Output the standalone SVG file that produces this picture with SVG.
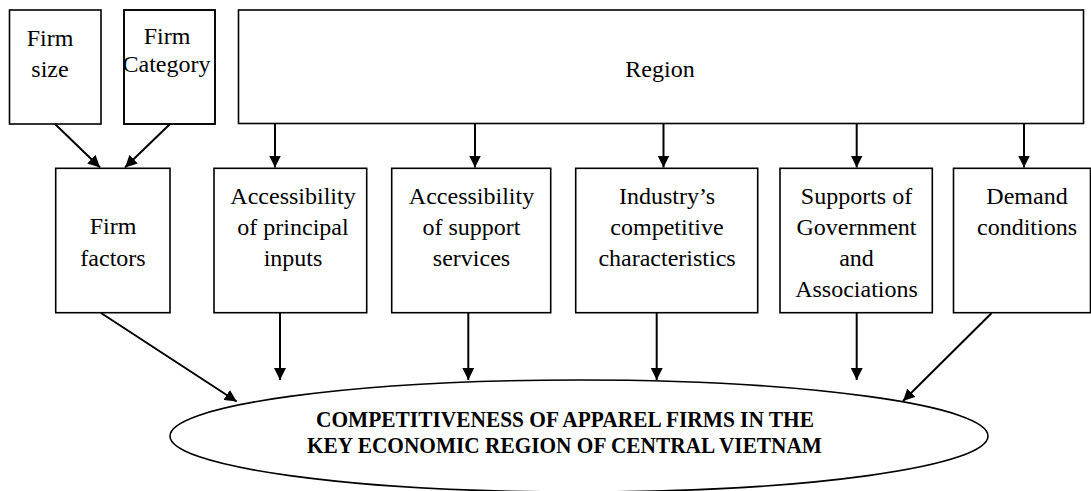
<svg xmlns="http://www.w3.org/2000/svg" width="1091" height="491" viewBox="0 0 1091 491">
  <defs>
    <marker id="arrow" viewBox="0 0 12 12" refX="12" refY="6" markerWidth="12" markerHeight="12" markerUnits="userSpaceOnUse" orient="auto">
      <path d="M0,0 L12,6 L0,12 Z" fill="#000"/>
    </marker>
    <!-- each label is clipped to the inside of its box -->
    <clipPath id="c-size"><rect x="9.5" y="10" width="91.5" height="114"/></clipPath>
    <clipPath id="c-category"><rect x="124.5" y="10" width="90" height="114"/></clipPath>
    <clipPath id="c-region"><rect x="238.5" y="10" width="845" height="113.5"/></clipPath>
    <clipPath id="c-factors"><rect x="55.7" y="168.3" width="114.3" height="144.4"/></clipPath>
    <clipPath id="c-inputs"><rect x="214" y="168.3" width="153" height="144.4"/></clipPath>
    <clipPath id="c-services"><rect x="391.7" y="168.3" width="159" height="144.4"/></clipPath>
    <clipPath id="c-industry"><rect x="575.7" y="168.3" width="182" height="144.4"/></clipPath>
    <clipPath id="c-government"><rect x="780" y="168.3" width="152.5" height="144.4"/></clipPath>
    <clipPath id="c-demand"><rect x="953.5" y="168.3" width="137.5" height="144.4"/></clipPath>
  </defs>
  <style>
    rect.box { fill: #fff; stroke: #000; stroke-width: 1.6; }
    rect.frame { fill: none; stroke: #000; stroke-width: 1.6; }
    ellipse.goal { fill: #fff; stroke: #000; stroke-width: 1.6; }
    text { font-family: 'Liberation Serif', 'DejaVu Serif', serif; fill: #000; text-anchor: middle; font-size: 24px; }
    .bold { font-weight: bold; font-size: 23px; }
    .link { stroke: #000; stroke-width: 2; fill: none; marker-end: url(#arrow); }
  </style>
  <rect width="1091" height="491" fill="#fff"/>

  <!-- top row -->
  <g id="firm-size">
    <rect class="box" x="9.5" y="10" width="91.5" height="114"/>
    <g clip-path="url(#c-size)">
      <text x="50" y="46">Firm</text>
      <text x="50" y="77">size</text>
    </g>
  </g>
  <g id="firm-category">
    <rect class="box" x="124" y="10" width="91" height="114"/>
    <g clip-path="url(#c-category)">
      <text x="167" y="43.5">Firm</text>
      <text x="166.5" y="72">Category</text>
    </g>
    <rect class="frame" x="124" y="10" width="91" height="114"/>
  </g>
  <g id="region">
    <rect class="box" x="238.5" y="10" width="845" height="113.5"/>
    <g clip-path="url(#c-region)">
      <text x="660" y="76.5">Region</text>
    </g>
  </g>

  <!-- factor row -->
  <g id="firm-factors">
    <rect class="box" x="55.7" y="168.3" width="114.3" height="144.4"/>
    <g clip-path="url(#c-factors)">
      <text x="113" y="234">Firm</text>
      <text x="113" y="265.5">factors</text>
    </g>
  </g>
  <g id="principal-inputs">
    <rect class="box" x="214" y="168.3" width="152.7" height="144.4"/>
    <g clip-path="url(#c-inputs)">
      <text x="293" y="204">Accessibility</text>
      <text x="293" y="234.5">of principal</text>
      <text x="293" y="265.5">inputs</text>
    </g>
  </g>
  <g id="support-services">
    <rect class="box" x="391.7" y="168.3" width="159" height="144.4"/>
    <g clip-path="url(#c-services)">
      <text x="471.5" y="204">Accessibility</text>
      <text x="471.5" y="234.5">of support</text>
      <text x="471.5" y="265.5">services</text>
    </g>
  </g>
  <g id="industry">
    <rect class="box" x="575.7" y="168.3" width="182" height="144.4"/>
    <g clip-path="url(#c-industry)">
      <text x="667" y="204">Industry’s</text>
      <text x="667" y="234.5">competitive</text>
      <text x="667" y="265.5">characteristics</text>
    </g>
  </g>
  <g id="government">
    <rect class="box" x="780" y="168.3" width="152.3" height="144.4"/>
    <g clip-path="url(#c-government)">
      <text x="856.5" y="203.5">Supports of</text>
      <text x="856.5" y="234.5">Government</text>
      <text x="856.5" y="265.5">and</text>
      <text x="856.5" y="297">Associations</text>
    </g>
  </g>
  <g id="demand">
    <rect class="box" x="953.5" y="168.3" width="137" height="144.4"/>
    <g clip-path="url(#c-demand)">
      <text x="1027" y="204">Demand</text>
      <text x="1027" y="234.5">conditions</text>
    </g>
  </g>

  <!-- outcome -->
  <g id="competitiveness">
    <ellipse class="goal" cx="579" cy="436" rx="409" ry="56"/>
    <text class="bold" x="565" y="427" textLength="498" lengthAdjust="spacingAndGlyphs">COMPETITIVENESS OF APPAREL FIRMS IN THE</text>
    <text class="bold" x="564.5" y="453" textLength="515" lengthAdjust="spacingAndGlyphs">KEY ECONOMIC REGION OF CENTRAL VIETNAM</text>
  </g>

  <g id="connectors">
    <line class="link" x1="55" y1="124" x2="100" y2="167.5"/>
    <line class="link" x1="170" y1="124" x2="125" y2="167.5"/>
    <line class="link" x1="275" y1="124" x2="275" y2="167.5"/>
    <line class="link" x1="475" y1="124" x2="475" y2="167.5"/>
    <line class="link" x1="663.5" y1="124" x2="663.5" y2="167.5"/>
    <line class="link" x1="856.7" y1="124" x2="856.7" y2="167.5"/>
    <line class="link" x1="1024" y1="124" x2="1024" y2="167.5"/>
    <line class="link" x1="101" y1="313" x2="236.7" y2="401.5"/>
    <line class="link" x1="280" y1="313" x2="280" y2="380"/>
    <line class="link" x1="468.3" y1="313" x2="468.3" y2="380"/>
    <line class="link" x1="656.7" y1="313" x2="656.7" y2="380"/>
    <line class="link" x1="856.7" y1="313" x2="856.7" y2="380"/>
    <line class="link" x1="991.7" y1="313" x2="903" y2="401"/>
  </g>
</svg>
